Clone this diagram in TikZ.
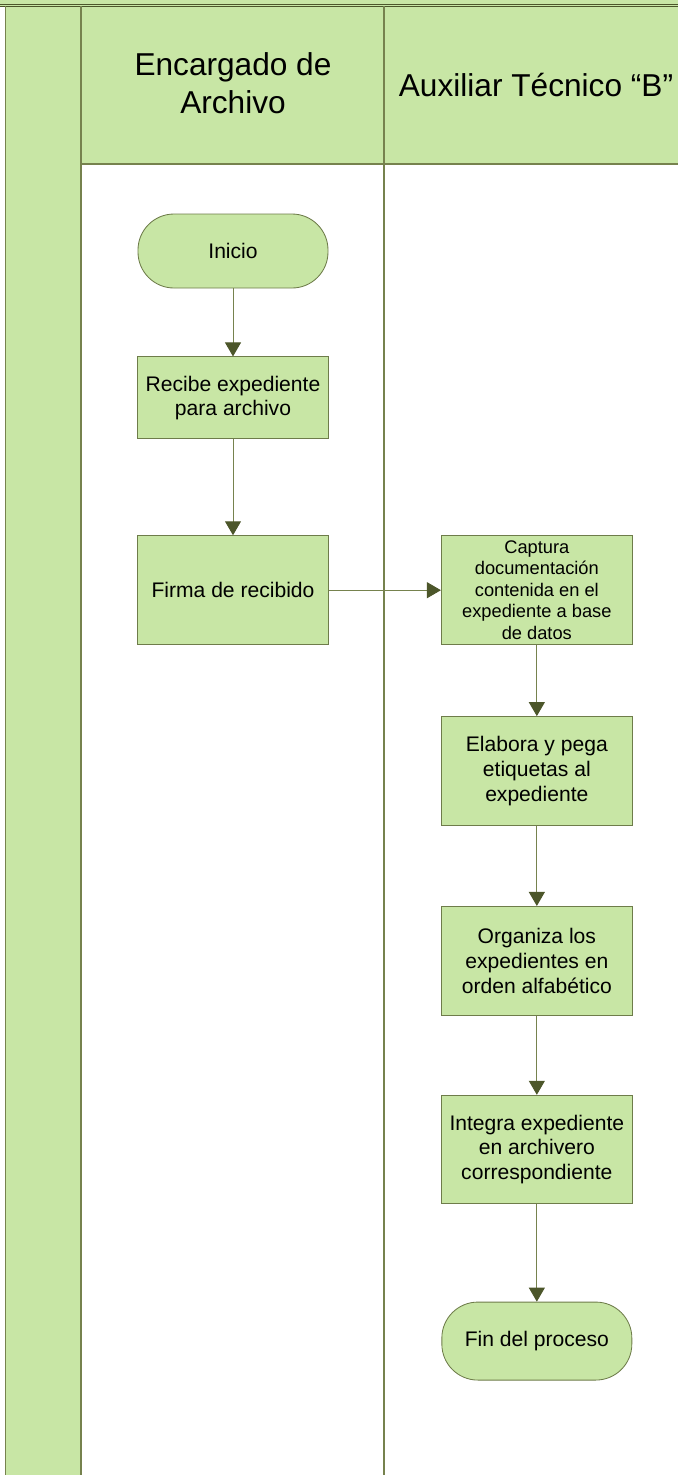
\documentclass[tikz,border=0pt]{standalone}
\usepackage{fontspec}
\setmainfont{Liberation Sans}
\usepackage{tikz}
\usetikzlibrary{positioning, arrows.meta}
\definecolor{lanegreen}{RGB}{200,230,165}
\definecolor{laneline}{RGB}{118,130,78}
\definecolor{boxline}{RGB}{110,124,74}
\definecolor{tipcolor}{RGB}{76,86,42}
\tikzstyle{startstop} = [rectangle, rounded corners=0.9cm, minimum width=4.75cm, minimum height=1.85cm, text centered, draw=boxline, fill=lanegreen, line width=0.6pt, font=\fontsize{15}{17.5}\selectfont]
\tikzstyle{process} = [rectangle, minimum width=4.775cm, minimum height=2.725cm, align=center, draw=boxline, fill=lanegreen, line width=0.6pt, font=\fontsize{15}{17.5}\selectfont]
\tikzstyle{arrow} = [draw=laneline, line width=0.7pt, -{Triangle[length=0.35cm,width=0.4cm,color=tipcolor]}]
\tikzstyle{lane} = [draw=laneline, line width=0.8pt]
\tikzstyle{header} = [align=center, font=\fontsize{22.5}{27}\selectfont]

\begin{document}
\begin{tikzpicture}
		\useasboundingbox (0,0) rectangle (16.95,-36.875);
		% lanes
		\fill[lanegreen] (0,0) rectangle (16.95,-0.16);
		\fill[lanegreen] (0.1375,-0.16) rectangle (2.025,-36.875);
		\fill[lanegreen] (2.025,-0.16) rectangle (16.95,-4.1);
		\draw[lane, draw=tipcolor] (0,-0.105) -- (16.95,-0.105);
		\draw[lane, draw=tipcolor] (0,-0.16) -- (16.95,-0.16);
		\draw[lane] (0.1375,-0.16) -- (0.1375,-36.875);
		\draw[lane] (2.025,-0.16) -- (2.025,-36.875);
		\draw[lane] (9.6,-0.16) -- (9.6,-36.875);
		\draw[lane] (2.025,-4.1) -- (16.95,-4.1);
		\node (lane1) [header] at (5.825,-2.075) {Encargado de\\Archivo};
		\node (lane2) [header] at (13.4,-2.125) {Auxiliar Técnico “B”};
		% flow
		\node (start) [startstop] at (5.825,-6.275) {Inicio};
		\node (recibe) [process, below=1.7cm of start, minimum height=2.05cm] {Recibe expediente\\para archivo};
		\node (firma) [process, below=2.4cm of recibe] {Firma de recibido};
		\node (captura) [process, right=2.8cm of firma, font=\fontsize{13}{15.3}\selectfont] {Captura\\documentación\\contenida en el\\expediente a base\\de datos};
		\node (elabora) [process, below=1.775cm of captura] {Elabora y pega\\etiquetas al\\expediente};
		\node (organiza) [process, below=2cm of elabora] {Organiza los\\expedientes en\\orden alfabético};
		\node (integra) [process, below=1.975cm of organiza, minimum height=2.7cm] {Integra expediente\\en archivero\\correspondiente};
		\node (fin) [startstop, below=2.45cm of integra, minimum height=1.95cm] {Fin del proceso};
		\draw [arrow](start) -- (recibe);
		\draw [arrow](recibe) -- (firma);
		\draw [arrow](firma) -- (captura);
		\draw [arrow](captura) -- (elabora);
		\draw [arrow](elabora) -- (organiza);
		\draw [arrow](organiza) -- (integra);
		\draw [arrow](integra) -- (fin);
	\end{tikzpicture}
\end{document}
